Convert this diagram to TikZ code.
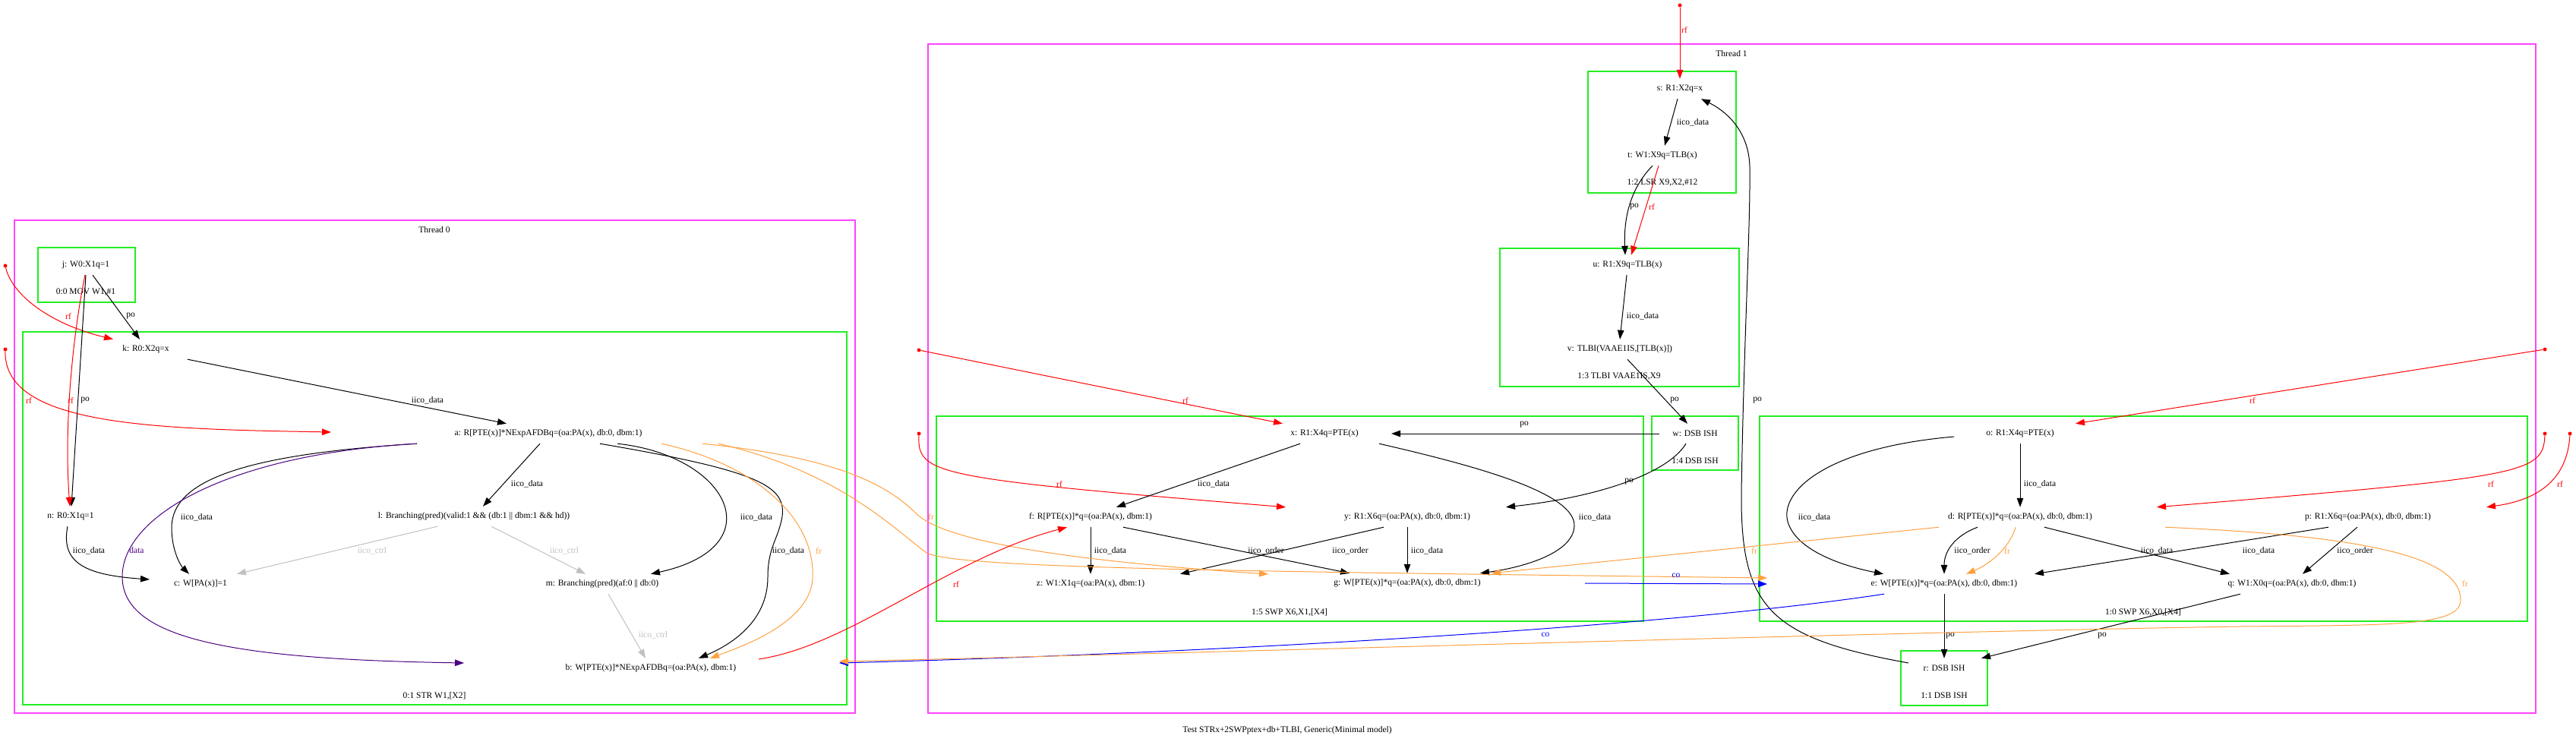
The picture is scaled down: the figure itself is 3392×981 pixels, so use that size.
\documentclass[tikz,border=0pt]{standalone}
\usepackage{fontspec}
\setmainfont{Liberation Serif}
\usepackage{tikz}
\usetikzlibrary{arrows.meta}
\definecolor{clgreen}{HTML}{22EE22}
\definecolor{clmagenta}{HTML}{FF44FF}
\definecolor{frorange}{HTML}{FFA040}
\definecolor{ctrlgray}{HTML}{C0C0C0}
\definecolor{dataindigo}{HTML}{4B0082}

\begin{document}
\begin{tikzpicture}[x=1pt, y=-1pt,
  every node/.style={font=\fontsize{11.5}{13}\selectfont},
  ev/.style={inner sep=0pt, minimum height=26pt},
  lab/.style={inner sep=0pt},
  thread/.style={draw=clmagenta, line width=1.3pt},
  instr/.style={draw=clgreen, line width=1.3pt},
  iw/.style={circle, fill=red, inner sep=0pt, minimum size=5pt},
  arrow/.style={-{Triangle[length=12pt,width=8.5pt]}, line width=1pt},
  poedge/.style={arrow, black},
  iicoedge/.style={arrow, black},
  ctrledge/.style={arrow, ctrlgray},
  rfedge/.style={arrow, red},
  fredge/.style={arrow, frorange},
  coedge/.style={arrow, blue},
  dataedge/.style={arrow, dataindigo}
]
\useasboundingbox (0,0) rectangle (3392,981);

% Thread 0
\draw[thread] (19,290) rectangle (1126,939);
\draw[instr] (50,326) rectangle (178,398);
\draw[instr] (30,437) rectangle (1115,928);
\node (th0) at (572,303) {Thread 0};
\node (i00) at (113,385) {0:0 MOV W1,\#1};
\node (i01) at (572,916) {0:1 STR W1,[X2]};

\node[ev] (j) at (113,349) {j: W0:X1q=1};
\node[ev] (k) at (192,460) {k: R0:X2q=x};
\node[ev] (a) at (722,571) {a: R[PTE(x)]*NExpAFDBq=(oa:PA(x), db:0, dbm:1)};
\node[ev] (n) at (93,680) {n: R0:X1q=1};
\node[ev] (l) at (624,680) {l: Branching(pred)(valid:1 \&\& (db:1 || dbm:1 \&\& hd))};
\node[ev] (c) at (264,769) {c: W[PA(x)]=1};
\node[ev] (m) at (793,769) {m: Branching(pred)(af:0 || db:0)};
\node[ev] (b) at (857,880) {b: W[PTE(x)]*NExpAFDBq=(oa:PA(x), dbm:1)};

% Thread 1
\draw[thread] (1222,58) rectangle (3339,939);
\draw[instr] (2091,94) rectangle (2286,254);
\draw[instr] (1975,327) rectangle (2290,509);
\draw[instr] (2175,548) rectangle (2289,619);
\draw[instr] (1233,548) rectangle (2164,818);
\draw[instr] (2317,548) rectangle (3328,818);
\draw[instr] (2503,857) rectangle (2617,929);
\node (th1) at (2280,71) {Thread 1};
\node (i12) at (2189,241) {1:2 LSR X9,X2,\#12};
\node (i13) at (2132,496) {1:3 TLBI VAAE1IS,X9};
\node (i14) at (2232,607) {1:4 DSB ISH};
\node (i15) at (1698,806) {1:5 SWP X6,X1,[X4]};
\node (i10) at (2822,806) {1:0 SWP X6,X0,[X4]};
\node (i11) at (2560,916) {1:1 DSB ISH};

\node[ev] (s) at (2212,117) {s: R1:X2q=x};
\node[ev] (t) at (2189,205) {t: W1:X9q=TLB(x)};
\node[ev] (u) at (2143,349) {u: R1:X9q=TLB(x)};
\node[ev] (v) at (2133,460) {v: TLBI(VAAE1IS,[TLB(x)])};
\node[ev] (w) at (2232,571) {w: DSB ISH};
\node[ev] (x) at (1744,571) {x: R1:X4q=PTE(x)};
\node[ev] (f) at (1436,681) {f: R[PTE(x)]*q=(oa:PA(x), dbm:1)};
\node[ev] (y) at (1853,681) {y: R1:X6q=(oa:PA(x), db:0, dbm:1)};
\node[ev] (z) at (1436,769) {z: W1:X1q=(oa:PA(x), dbm:1)};
\node[ev] (g) at (1853,768) {g: W[PTE(x)]*q=(oa:PA(x), db:0, dbm:1)};
\node[ev] (o) at (2660,571) {o: R1:X4q=PTE(x)};
\node[ev] (d) at (2660,681) {d: R[PTE(x)]*q=(oa:PA(x), db:0, dbm:1)};
\node[ev] (p) at (3118,681) {p: R1:X6q=(oa:PA(x), db:0, dbm:1)};
\node[ev] (e) at (2560,769) {e: W[PTE(x)]*q=(oa:PA(x), db:0, dbm:1)};
\node[ev] (q) at (3018,769) {q: W1:X0q=(oa:PA(x), db:0, dbm:1)};
\node[ev] (r) at (2560,880) {r: DSB ISH};

% initial writes
\node[iw] (iw0) at (7,350) {};
\node[iw] (iw1) at (7,460) {};
\node[iw] (iw2) at (2212,7) {};
\node[iw] (iw3) at (1210,461) {};
\node[iw] (iw4) at (1210,571) {};
\node[iw] (iw5) at (3351,460) {};
\node[iw] (iw6) at (3351,571) {};
\node[iw] (iw7) at (3384,571) {};

\node (title) at (1695,962) {Test STRx+2SWPptex+db+TLBI, Generic(Minimal model)};

% Thread 0 edges
\draw[poedge] ([xshift=9]j.south) -- ([xshift=-8]k.north) node[lab] at (172,416) {po};
\draw[rfedge] (iw0) .. controls (15,385) and (60,425) .. ([xshift=-43]k.north) node[lab] at (90,416) {rf};
\draw[poedge] (j.south) -- ([xshift=1]n.north) node[lab] at (112,527) {po};
\draw[rfedge] ([xshift=-1]j.south) .. controls (96,440) and (84,560) .. ([xshift=-1]n.north) node[lab] at (93,527) {rf};
\draw[rfedge] (iw1) .. controls (5,560) and (200,565) .. ([xshift=-286,yshift=2]a.center) node[lab] at (38,527) {rf};
\draw[iicoedge] ([xshift=55]k.south) -- ([xshift=-55]a.north) node[lab] at (563,527) {iico\_data};
\draw[iicoedge] ([xshift=-11]a.south) -- ([xshift=12]l.north) node[lab] at (694,637) {iico\_data};
\draw[iicoedge] ([xshift=-173]a.south) .. controls (330,598) and (226,630) .. (226,695) .. controls (226,725) and (238,745) .. ([xshift=-15]c.north) node[lab] at (259,681) {iico\_data};
\draw[dataedge] ([xshift=-173]a.south) .. controls (300,598) and (160,680) .. (161,760) .. controls (162,840) and (300,868) .. ([xshift=-246,yshift=7]b.center) node[lab] at (180,725) {data};
\draw[iicoedge] ([xshift=91]a.south) .. controls (960,600) and (1020,720) .. ([xshift=64]m.north) node[lab] at (996,681) {iico\_data};
\draw[iicoedge] ([xshift=68]a.south) .. controls (1000,620) and (1035,640) .. (1030,680) .. controls (1025,710) and (1011,720) .. (1011,760) .. controls (1011,820) and (960,850) .. ([xshift=63]b.north) node[lab] at (1038,725) {iico\_data};
\draw[fredge] ([xshift=149]a.south) .. controls (990,610) and (1075,680) .. (1070,763) .. controls (1065,820) and (980,850) .. ([xshift=78]b.north) node[lab] at (1078,725) {fr};
\draw[ctrledge] ([xshift=-48]l.south) -- ([xshift=48]c.north) node[lab] at (490,725) {iico\_ctrl};
\draw[ctrledge] ([xshift=23]l.south) -- ([xshift=-22]m.north) node[lab] at (743,725) {iico\_ctrl};
\draw[ctrledge] ([xshift=8]m.south) -- ([xshift=-7]b.north) node[lab] at (860,836) {iico\_ctrl};
\draw[iicoedge] ([xshift=-4]n.south) .. controls (80,740) and (110,757) .. ([xshift=-67,yshift=6]c.center) node[lab] at (117,725) {iico\_data};

% Thread 1 edges
\draw[rfedge] (iw2) -- (s.north) node[lab] at (2218,39) {rf};
\draw[iicoedge] ([xshift=-3]s.south) -- ([xshift=3]t.north) node[lab] at (2229,161) {iico\_data};
\draw[poedge] ([xshift=-13]t.south) .. controls (2145,250) and (2138,290) .. ([xshift=-3]u.north) node[lab] at (2152,272) {po};
\draw[rfedge] ([xshift=-5]t.south) -- ([xshift=5]u.north) node[lab] at (2175,272) {rf};
\draw[iicoedge] ([xshift=-1]u.south) -- (v.north) node[lab] at (2163,416) {iico\_data};
\draw[poedge] ([xshift=10]v.south) -- ([xshift=-10]w.north) node[lab] at (2205,527) {po};
\draw[poedge] ([xshift=-47]w.center) -- ([xshift=88]x.center) node[lab] at (2007,559) {po};
\draw[poedge] ([xshift=-12]w.south) .. controls (2195,625) and (2100,655) .. ([xshift=130]y.north) node[lab] at (2145,634) {po};
\draw[rfedge] (iw3) -- ([xshift=-55]x.north) node[lab] at (1561,527) {rf};
\draw[rfedge] (iw4) .. controls (1208,625) and (1230,630) .. ([xshift=-160]y.north) node[lab] at (1395,637) {rf};
\draw[iicoedge] ([xshift=-32]x.south) -- ([xshift=34]f.north) node[lab] at (1598,637) {iico\_data};
\draw[iicoedge] ([xshift=72]x.south) .. controls (1950,615) and (2075,650) .. (2073,693) .. controls (2071,730) and (2000,748) .. ([xshift=96]g.north) node[lab] at (2100,681) {iico\_data};
\draw[iicoedge] (f.south) -- (z.north) node[lab] at (1462,725) {iico\_data};
\draw[iicoedge] ([xshift=43]f.south) -- ([xshift=-76]g.north) node[lab] at (1667,725) {iico\_order};
\draw[iicoedge] ([xshift=-31]y.south) -- ([xshift=118]z.north) node[lab] at (1778,725) {iico\_order};
\draw[iicoedge] (y.south) -- (g.north) node[lab] at (1879,725) {iico\_data};
\draw[rfedge] (iw5) -- ([xshift=73]o.north) node[lab] at (2966,527) {rf};
\draw[iicoedge] (o.south) -- (d.north) node[lab] at (2686,637) {iico\_data};
\draw[iicoedge] ([xshift=-87,yshift=-4]o.center) .. controls (2400,590) and (2340,650) .. (2355,690) .. controls (2370,730) and (2440,748) .. ([xshift=-80]e.north) node[lab] at (2389,681) {iico\_data};
\draw[iicoedge] ([xshift=-56]d.south) .. controls (2575,705) and (2560,725) .. (e.north) node[lab] at (2597,725) {iico\_order};
\draw[fredge] ([xshift=-6]d.south) .. controls (2645,725) and (2615,745) .. ([xshift=29]e.north) node[lab] at (2643,725) {fr};
\draw[iicoedge] ([xshift=32]d.south) -- ([xshift=-82]q.north) node[lab] at (2840,725) {iico\_data};
\draw[iicoedge] ([xshift=-52]p.south) -- ([xshift=119]e.north) node[lab] at (2974,725) {iico\_data};
\draw[iicoedge] ([xshift=-14]p.south) -- ([xshift=14]q.north) node[lab] at (3101,725) {iico\_order};
\draw[rfedge] (iw6) .. controls (3349,625) and (3320,628) .. ([xshift=180]d.north) node[lab] at (3280,637) {rf};
\draw[rfedge] (iw7) .. controls (3380,640) and (3330,660) .. ([xshift=156]p.north) node[lab] at (3371,637) {rf};
\draw[poedge] (e.south) -- (r.north) node[lab] at (2568,837) {po};
\draw[poedge] ([xshift=-68]q.south) -- ([xshift=49]r.north) node[lab] at (2768,837) {po};
\draw[poedge] ([xshift=-47,yshift=7]r.center) .. controls (2330,840) and (2292,800) .. (2293,650) .. controls (2296,450) and (2305,300) .. (2304,220) .. controls (2303,170) and (2270,145) .. ([xshift=28]s.south) node[lab] at (2314,527) {po};

% between threads
\draw[fredge] ([xshift=203]a.south) .. controls (1080,600) and (1160,630) .. (1205,675) .. controls (1240,712) and (1400,738) .. ([xshift=-183,yshift=12]g.center) node[lab] at (1226,680) {fr};
\draw[fredge] ([xshift=224]a.south) .. controls (1100,620) and (1170,690) .. (1220,728) .. controls (1260,748) and (1600,752) .. ([xshift=-233,yshift=8]e.center);
\draw[rfedge] ([xshift=142,yshift=12]b.center) .. controls (1120,850) and (1250,735) .. ([xshift=-31]f.south) node[lab] at (1259,769) {rf};
\draw[coedge] ([xshift=234]g.center) -- ([xshift=-233]e.center) node[lab] at (2207,758) {co};
\draw[fredge] ([xshift=-107]d.south) -- ([xshift=111]g.north) node[lab] at (2310,725) {fr};
\draw[coedge] ([xshift=-79]e.south) .. controls (2200,825) and (1600,860) .. ([xshift=248,yshift=7]b.center) node[lab] at (2035,836) {co};
\draw[fredge] ([xshift=191]d.south) .. controls (3100,705) and (3240,730) .. (3240,790) .. controls (3240,825) and (3150,823) .. (2950,825) .. controls (2500,832) and (1500,862) .. ([xshift=248,yshift=9]b.center) node[lab] at (3246,768) {fr};

\end{tikzpicture}
\end{document}
